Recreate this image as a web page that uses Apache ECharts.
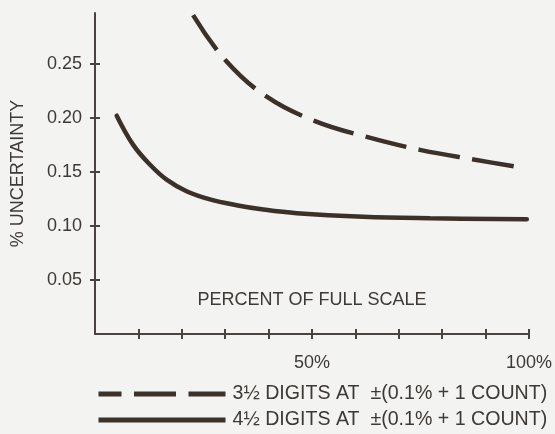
<!DOCTYPE html>
<html>
<head>
<meta charset="utf-8">
<script src="https://cdn.jsdelivr.net/npm/echarts@6/dist/echarts.min.js"></script>
<style>
html,body{margin:0;padding:0;background:#f3f3f1;}
#chart{width:555px;height:434px;}
</style>
</head>
<body>
<div id="chart"></div>
<script>
// Percent of full scale (x) and % uncertainty (y)
var x35 = [22.6, 29.9, 39.4, 50.7, 62.4, 74.9, 87.6, 97.3];
var y35 = [0.295, 0.254, 0.220, 0.197, 0.1826, 0.1704, 0.1612, 0.1546];
var x45 = [5.0, 8.8, 12.7, 16.5, 21.1, 26.5, 32.6, 38.8, 46.5, 61.8, 77.2, 99.5];
var y45 = [0.202, 0.175, 0.1566, 0.1428, 0.1321, 0.1245, 0.1192, 0.1152, 0.1118, 0.1085, 0.1071, 0.1061];
var seriesNames = ['3\u00BD DIGITS AT  \u00B1(0.1% + 1 COUNT)', '4\u00BD DIGITS AT  \u00B1(0.1% + 1 COUNT)'];
var yTicks = [0.05, 0.10, 0.15, 0.20, 0.25];
var xTicks = [10, 20, 30, 40, 50, 60, 70, 80, 90, 100];
var xLabels = [50, 100];
var yName = '% UNCERTAINTY';
var xName = 'PERCENT OF FULL SCALE';

function pairs(xs, ys) { return xs.map(function (x, i) { return [x, ys[i]]; }); }

var FONT = '"Liberation Sans", Arial, Helvetica, sans-serif';
var TXT = '#3d3935';
var AX = '#4a4440';
var LINE = '#3b3128';

var chart = echarts.init(document.getElementById('chart'), null, {renderer: 'canvas'});
chart.setOption({
  backgroundColor: '#f3f3f1',
  animation: false,
  textStyle: {fontFamily: FONT},
  grid: {left: 95, right: 26, top: 13, bottom: 100, containLabel: false},
  legend: {
    orient: 'vertical', left: 96, top: 384, padding: 0,
    itemWidth: 127, itemHeight: 20, itemGap: 6,
    data: seriesNames,
    textStyle: {fontFamily: FONT, fontSize: 19.6, color: TXT, padding: [0, 0, 0, 2]},
    itemStyle: {opacity: 0},
    lineStyle: {width: 5, dashOffset: 19, cap: 'butt'},
    selectedMode: false
  },
  xAxis: [{
    type: 'value', min: 0, max: 100, position: 'bottom',
    name: xName, nameLocation: 'middle', nameGap: -43,
    nameTextStyle: {fontFamily: FONT, fontSize: 18, color: TXT},
    axisLine: {show: true, lineStyle: {color: AX, width: 2}},
    axisTick: {show: true, customValues: xTicks, length: 5, lineStyle: {color: AX, width: 2}},
    axisLabel: {show: true, customValues: xLabels, margin: 20, fontSize: 18, color: TXT, fontFamily: FONT,
      formatter: function (v) { return v + '%'; }},
    splitLine: {show: false}
  }, {
    type: 'value', min: 0, max: 100, position: 'bottom',
    axisLine: {show: false},
    axisTick: {show: true, inside: true, customValues: xTicks, length: 5, lineStyle: {color: AX, width: 2}},
    axisLabel: {show: false},
    splitLine: {show: false}
  }],
  yAxis: [{
    type: 'value', min: 0, max: 0.297, position: 'left',
    name: yName, nameLocation: 'middle', nameGap: 68, nameRotate: 90,
    nameTextStyle: {fontFamily: FONT, fontSize: 18, color: TXT},
    axisLine: {show: true, lineStyle: {color: AX, width: 2}},
    axisTick: {show: true, customValues: yTicks, length: 5, lineStyle: {color: AX, width: 2}},
    axisLabel: {show: true, customValues: yTicks, margin: 13, fontSize: 18, color: TXT, fontFamily: FONT,
      formatter: function (v) { return v.toFixed(2); }},
    splitLine: {show: false}
  }, {
    type: 'value', min: 0, max: 0.297, position: 'left',
    axisLine: {show: false},
    axisTick: {show: true, inside: true, customValues: yTicks, length: 5, lineStyle: {color: AX, width: 2}},
    axisLabel: {show: false},
    splitLine: {show: false}
  }],
  series: [{
    name: seriesNames[0], type: 'line', xAxisIndex: 0, yAxisIndex: 0,
    data: pairs(x35, y35), smooth: 0.4, symbol: 'none',
    lineStyle: {color: LINE, width: 4.5, type: [42, 12.5], cap: 'butt'},
    itemStyle: {color: LINE}
  }, {
    name: seriesNames[1], type: 'line', xAxisIndex: 0, yAxisIndex: 0,
    data: pairs(x45, y45), smooth: 0.4, symbol: 'none',
    lineStyle: {color: LINE, width: 4.5, type: 'solid', cap: 'round'},
    itemStyle: {color: LINE}
  }]
});
</script>
</body>
</html>
